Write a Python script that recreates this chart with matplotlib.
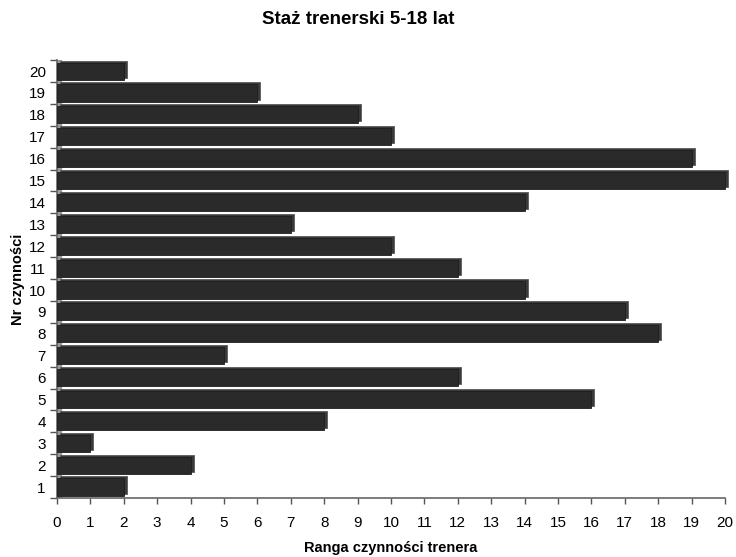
import matplotlib
matplotlib.use("Agg")
import matplotlib.pyplot as plt
from matplotlib.transforms import offset_copy
import numpy as np

plt.rcParams['font.family'] = ['Liberation Sans', 'DejaVu Sans']

categories = [str(i) for i in range(1, 21)]
values = [2, 4, 1, 8, 16, 12, 5, 18, 17, 14, 12, 10, 7, 14, 20, 19, 10, 9, 6, 2]
xticks = list(range(0, 21))

fig = plt.figure(figsize=(7.36, 5.57), dpi=100)
ax = fig.add_axes([0.0774, 0.106, 0.9076, 0.786])

y = np.arange(1, 21)
h = 0.78
# 3D depth face (offset behind)
off = offset_copy(ax.transData, fig=fig, x=3, y=2, units='dots')
ax.barh(y, values, height=h, color='#3a3a3a', edgecolor='#5a5a5a', linewidth=0.6,
        transform=off, zorder=2, clip_on=False)
ax.barh(y, values, height=h, color='#2b2a2b', edgecolor='#1e1e1e', linewidth=0.6, zorder=3,
        clip_on=False)

# left wall
ax.axvspan(0, 0.12, color='#9a9a9a', zorder=1)

ax.set_xlim(0, 20)
ax.set_ylim(0.5, 20.5)
ax.set_xticks(xticks)
ax.set_xticklabels([str(t) for t in xticks], fontsize=11)
ax.set_yticks(y)
ax.set_yticklabels(categories, fontsize=11)
ax.set_yticks(np.arange(0.5, 21, 1), minor=True)
ax.tick_params(axis='y', which='major', length=0, pad=8)
ax.tick_params(axis='y', which='minor', length=5, color='#555555', width=1)
ax.tick_params(axis='x', which='major', length=4, color='#555555', width=1, pad=9)

for s in ['top', 'right']:
    ax.spines[s].set_visible(False)
for s in ['left', 'bottom']:
    ax.spines[s].set_color('#666666')
    ax.spines[s].set_linewidth(1.2)

fig.text(391 / 736, 1 - 548 / 557, 'Ranga czynności trenera', fontsize=10.5,
         fontweight='bold', ha='center', va='center')
ax.set_ylabel('Nr czynności', fontsize=10.5, fontweight='bold', labelpad=3)
fig.suptitle('Staż trenerski 5-18 lat', fontsize=13.5, fontweight='bold', x=0.487, y=0.98)

fig.savefig('out.png', dpi=100)
